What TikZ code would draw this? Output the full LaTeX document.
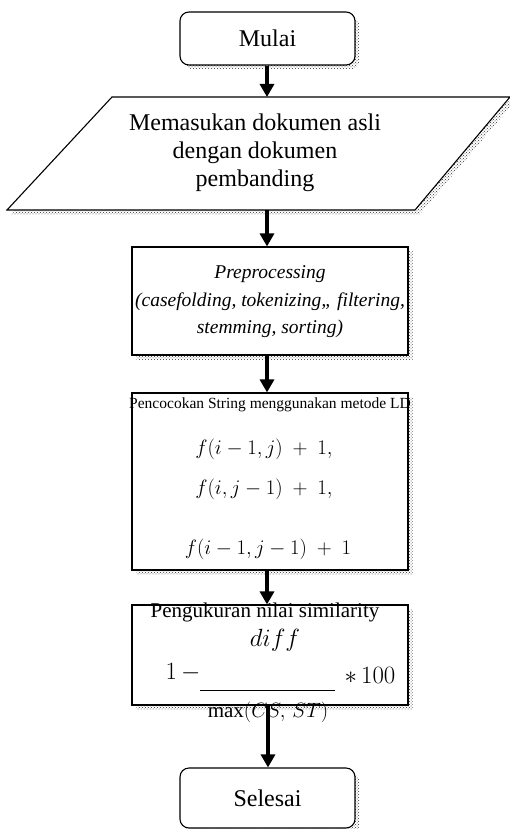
\documentclass[tikz,border=0pt]{standalone}
\usepackage{fontspec}
\setmainfont{Liberation Serif}
\usetikzlibrary{patterns,arrows.meta}
\begin{document}
\begin{tikzpicture}[x=1pt,y=-1pt,
  shadowfill/.style={pattern=crosshatch dots, pattern color=black!80},
  shapeline/.style={draw=black, line width=1.1pt, fill=white, inner sep=0pt},
  flow/.style={line width=3.2pt, -{Triangle[length=13pt,width=14pt]}},
  bigtxt/.style={font=\fontsize{24}{28}\selectfont, align=center},
  boxtxt/.style={font=\fontsize{19.5}{27.5}\selectfont\itshape, align=center},
  smalltxt/.style={font=\fontsize{15.5}{18}\selectfont},
  midtxt/.style={font=\fontsize{21}{24}\selectfont},
  mathtxt/.style={font=\fontsize{21}{24}\selectfont},
  bigmath/.style={font=\fontsize{24}{26}\selectfont}
]
\useasboundingbox (0,0) rectangle (510,829);
% Mulai
\path[shadowfill, rounded corners=9pt] (184.5,16.5) rectangle (359.5,69.5);
\node[shapeline, rounded corners=9pt, minimum width=175pt, minimum height=53pt, bigtxt] (mulai) at (267.5,38.5) {Mulai};
% input parallelogram
\path[shadowfill] (116.5,101.5) -- (514.5,101.5) -- (419.5,214.5) -- (11.5,214.5) -- cycle;
\draw[shapeline] (112,97) -- (510,97) -- (415,210) -- (7,210) -- cycle;
\coordinate (inTop) at (267,97);
\coordinate (inBot) at (267,210);
\node[bigtxt] (input) at (255,153) {Memasukan dokumen asli\\dengan dokumen\\pembanding};
% preprocessing
\path[shadowfill] (136.5,251.5) rectangle (412.5,359.5);
\node[shapeline, minimum width=276pt, minimum height=108pt] (pre) at (270,301) {};
\node[boxtxt] (pretext) at (270,302) {Preprocessing\\(casefolding, tokenizing,, filtering,\\stemming, sorting)};
% pencocokan
\path[shadowfill] (136.5,397.5) rectangle (412.5,574.5);
\node[shapeline, minimum width=276pt, minimum height=177pt] (ld) at (270,481.5) {};
\node[smalltxt] (ldtitle) at (270,405) {Pencocokan String menggunakan metode LD};
\node[mathtxt] (f1) at (264,449) {$f(i-1,j)\ +\ 1,$};
\node[mathtxt] (f2) at (264,489) {$f(i,j-1)\ +\ 1,$};
\node[mathtxt] (f3) at (268,549) {$f(i-1,j-1)\ +\ 1$};
% pengukuran
\path[shadowfill] (136.5,609.5) rectangle (412.5,709.5);
\node[shapeline, minimum width=276pt, minimum height=100pt] (sim) at (270,655) {};
\node[midtxt] (simtitle) at (265,612) {Pengukuran nilai similarity};
\node[font=\fontsize{34}{36}\selectfont] (diff) at (275,640) {$diff$};
\node[bigmath] (one) at (183,673) {$1\,-$};
\node[bigmath] (hund) at (370,675) {$*\,100$};
\coordinate (barL) at (200,690);
\coordinate (barR) at (335,690);
\draw[line width=0.9pt] (barL) -- (barR);
\node[mathtxt] (maxcs) at (268,712) {$\mathrm{max}(CS,\,ST)$};
\coordinate (simBot) at (268,705);
% selesai
\path[shadowfill, rounded corners=9pt] (184.5,772.5) rectangle (359.5,833);
\node[shapeline, rounded corners=9pt, minimum width=175pt, minimum height=60pt, bigtxt] (selesai) at (267.5,798) {Selesai};
% arrows
\draw[flow] (mulai.south -| inTop) -- (inTop);
\draw[flow] (inBot) -- (inBot |- pre.north);
\draw[flow] (pre.south -| inBot) -- (inBot |- ld.north);
\draw[flow] (ld.south -| inBot) -- (inBot |- sim.north);
\draw[flow] (simBot) -- (simBot |- selesai.north);
\end{tikzpicture}
\end{document}
